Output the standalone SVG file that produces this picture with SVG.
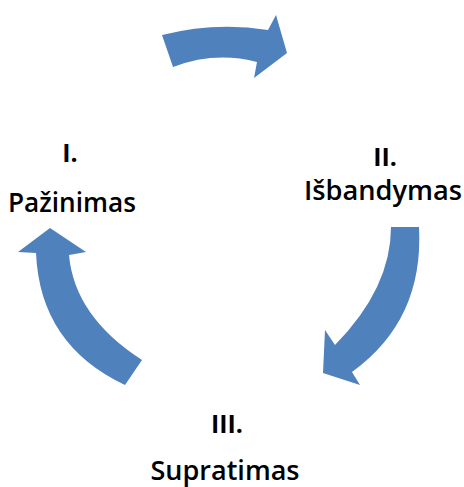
<svg xmlns="http://www.w3.org/2000/svg" width="464" height="487" viewBox="0 0 464 487">
<style>
.arrow{fill:#4F81BD;stroke:none}
.t{font-family:"Open Sans","Liberation Sans",sans-serif;font-size:27px;fill:#000;text-anchor:middle;font-weight:600}
.b{font-weight:bold;font-size:25px}
</style>
<rect width="464" height="487" fill="#fff"/>
<g id="connectors">
<path class="arrow" d="M162,35 Q215,21.5 268,30 L276,15 L287,53 L254,78 L257,62 Q215,51 173,67 Z"/>
<path class="arrow" d="M391,227 L419,227 Q424,320 352,372 L360,385 L323,373 L325,330 L335,345 Q391,288 391,227 Z"/>
<path class="arrow" d="M50,228 L18,252 L36,253 Q40,345 125,385 L142,360 Q74.5,316.5 69,255 L86,252 Z"/>
</g>
<g id="node1">
<text class="t b" x="70" y="162">I.</text>
<text class="t" x="72" y="212" textLength="128" lengthAdjust="spacingAndGlyphs">Pažinimas</text>
</g>
<g id="node2">
<text class="t b" x="385" y="166">II.</text>
<text class="t" x="383" y="200" textLength="158" lengthAdjust="spacingAndGlyphs">Išbandymas</text>
</g>
<g id="node3">
<text class="t b" x="227" y="433">III.</text>
<text class="t" x="225" y="480" textLength="149" lengthAdjust="spacingAndGlyphs">Supratimas</text>
</g>
</svg>
